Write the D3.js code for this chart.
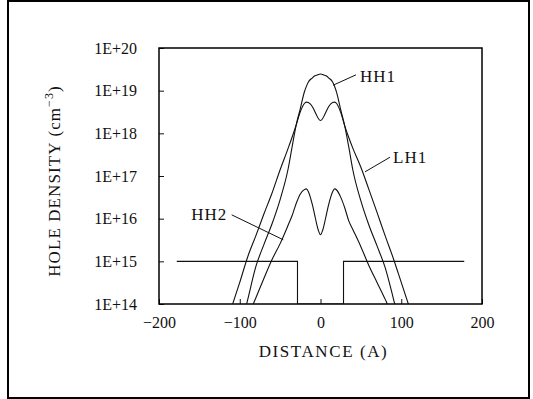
<!DOCTYPE html>
<html>
<head>
<meta charset="utf-8">
<script src="https://cdn.jsdelivr.net/npm/d3@7"></script>
<style>
  html, body { margin: 0; padding: 0; background: #fff; }
  svg { display: block; }
  svg text { font-family: "Liberation Serif", "Times New Roman", serif; fill: #111; }
</style>
</head>
<body>
<svg id="chart" width="533" height="399"></svg>
<script>
// Distance grid (Å) shared by the three subband profiles
const distance = [-110,-100,-90,-80,-70,-60,-50,-40,-35,-30,-25,-20,-17.5,-15,-10,-7.5,-5,-2.5,0,
                  2.5,5,7.5,10,15,17.5,20,25,30,35,40,50,60,70,80,90,100,110];

// Hole density (cm^-3) for each subband
const hh1 = [4.0e12,2.2e13,1.3e14,7.6e14,2.5e15,7.6e15,2.8e16,1.5e17,5.0e17,1.6e18,3.8e18,9.3e18,1.26e19,1.6e19,2.0e19,2.2e19,2.3e19,2.4e19,2.45e19,
             2.4e19,2.3e19,2.2e19,2.0e19,1.6e19,1.25e19,9.0e18,3.6e18,1.5e18,4.8e17,1.4e17,2.6e16,7.0e15,2.3e15,7.2e14,1.4e14,2.4e13,4.5e12];
const lh1 = [8.5e13,3.2e14,1.3e15,4.0e15,1.3e16,4.0e16,1.4e17,4.5e17,8.3e17,1.6e18,3.2e18,5.0e18,5.4e18,5.25e18,4.2e18,3.4e18,2.7e18,2.2e18,2.0e18,
             2.2e18,2.7e18,3.4e18,4.2e18,5.3e18,5.4e18,5.0e18,3.1e18,1.5e18,8.0e17,4.5e17,1.6e17,4.8e16,1.4e16,4.0e15,1.2e15,3.2e14,8.5e13];
const hh2 = [6.3e12,1.6e13,5.0e13,1.4e14,4.0e14,1.1e15,2.6e15,7.1e15,1.2e16,2.3e16,3.8e16,4.8e16,5.0e16,4.3e16,2.1e16,1.3e16,7.9e15,5.2e15,4.2e15,
             5.2e15,7.9e15,1.3e16,2.1e16,4.3e16,5.0e16,4.7e16,3.2e16,1.8e16,8.9e15,5.6e15,2.2e15,7.9e14,3.2e14,1.3e14,5.0e13,1.6e13,6.3e12];

// Quantum-well doping profile
const wellX = [-178, -28.5, -28.5, 28.5, 28.5, 178];
const wellY = [1e15, 1e15, 1e14, 1e14, 1e15, 1e15];

// Axis ticks
const xTicks = [-200, -100, 0, 100, 200];
const yTicks = [1e14, 1e15, 1e16, 1e17, 1e18, 1e19, 1e20];

// Curve labels: [name, curve point, elbow point, text position (distance, density), anchor]
const labels = [
  ["HH1", [15.9, 1.35e19], [44, 2.35e19], [49, 1.62e19], "start"],
  ["LH1", [55.1, 1.25e17], [86, 2.75e17], [89.8, 2.05e17], "start"],
  ["HH2", [-46.1, 3.2e15], [-110, 1.23e16], [-115.4, 9.3e15], "end"]
];

const svg = d3.select("#chart");

// Outer frame
svg.append("rect")
  .attr("x", 8).attr("y", 1).attr("width", 521).attr("height", 397)
  .attr("fill", "none").attr("stroke", "#000").attr("stroke-width", 2);

const plot = { left: 159, right: 482, top: 48, bottom: 304 };

const x = d3.scaleLinear().domain([-200, 200]).range([plot.left, plot.right]);
const y = d3.scaleLog().domain([1e14, 1e20]).range([plot.bottom, plot.top]);

svg.append("clipPath").attr("id", "plot-clip")
  .append("rect")
  .attr("x", plot.left).attr("y", plot.top)
  .attr("width", plot.right - plot.left).attr("height", plot.bottom - plot.top);

// Axes with inward ticks
const xAxis = d3.axisBottom(x).tickValues(xTicks).tickSizeInner(-5).tickSizeOuter(0).tickPadding(13)
  .tickFormat(d3.format("d"));
const yAxis = d3.axisLeft(y).tickValues(yTicks).tickSizeInner(-5).tickSizeOuter(0).tickPadding(22)
  .tickFormat(d => "1E+" + Math.round(Math.log10(d)));

const gx = svg.append("g").attr("transform", `translate(0,${plot.bottom})`).call(xAxis);
const gy = svg.append("g").attr("transform", `translate(${plot.left},0)`).call(yAxis);
[gx, gy].forEach(g => {
  g.attr("font-family", null);
  g.select(".domain").remove();
  g.selectAll(".tick line").attr("stroke", "#111").attr("stroke-width", 1);
  g.selectAll(".tick text").attr("font-size", 16).attr("fill", "#111");
});

// Plot box
svg.append("rect")
  .attr("x", plot.left).attr("y", plot.top)
  .attr("width", plot.right - plot.left).attr("height", plot.bottom - plot.top)
  .attr("fill", "none").attr("stroke", "#000").attr("stroke-width", 1.5);

// Profiles
const line = d3.line().x(d => x(d[0])).y(d => y(d[1])).curve(d3.curveMonotoneX);
const curves = svg.append("g").attr("clip-path", "url(#plot-clip)");
[hh1, lh1, hh2].forEach(series => {
  curves.append("path")
    .datum(distance.map((d, i) => [d, series[i]]))
    .attr("d", line)
    .attr("fill", "none").attr("stroke", "#111").attr("stroke-width", 1.1);
});

// Well profile
curves.append("path")
  .datum(wellX.map((d, i) => [d, wellY[i]]))
  .attr("d", d3.line().x(d => x(d[0])).y(d => y(d[1])))
  .attr("fill", "none").attr("stroke", "#111").attr("stroke-width", 1.1);

// Curve labels with pointer lines
labels.forEach(([name, p0, p1, pt, anchor]) => {
  svg.append("line")
    .attr("x1", x(p0[0])).attr("y1", y(p0[1]))
    .attr("x2", x(p1[0])).attr("y2", y(p1[1]))
    .attr("stroke", "#111").attr("stroke-width", 1);
  svg.append("text")
    .attr("x", x(pt[0])).attr("y", y(pt[1]))
    .attr("text-anchor", anchor)
    .attr("font-size", 17).attr("letter-spacing", 1)
    .text(name);
});

// Axis titles
svg.append("text")
  .attr("x", (plot.left + plot.right) / 2 + 3).attr("y", 357)
  .attr("text-anchor", "middle").attr("font-size", 17).attr("letter-spacing", 1.6)
  .text("DISTANCE (A)");

const yt = svg.append("text")
  .attr("transform", "translate(60,181) rotate(-90)")
  .attr("text-anchor", "middle").attr("font-size", 17).attr("letter-spacing", 1.1);
yt.append("tspan").text("HOLE DENSITY (cm");
yt.append("tspan").attr("dy", -7).attr("font-size", 12).text("\u22123");
yt.append("tspan").attr("dy", 7).text(")");
</script>
</body>
</html>
